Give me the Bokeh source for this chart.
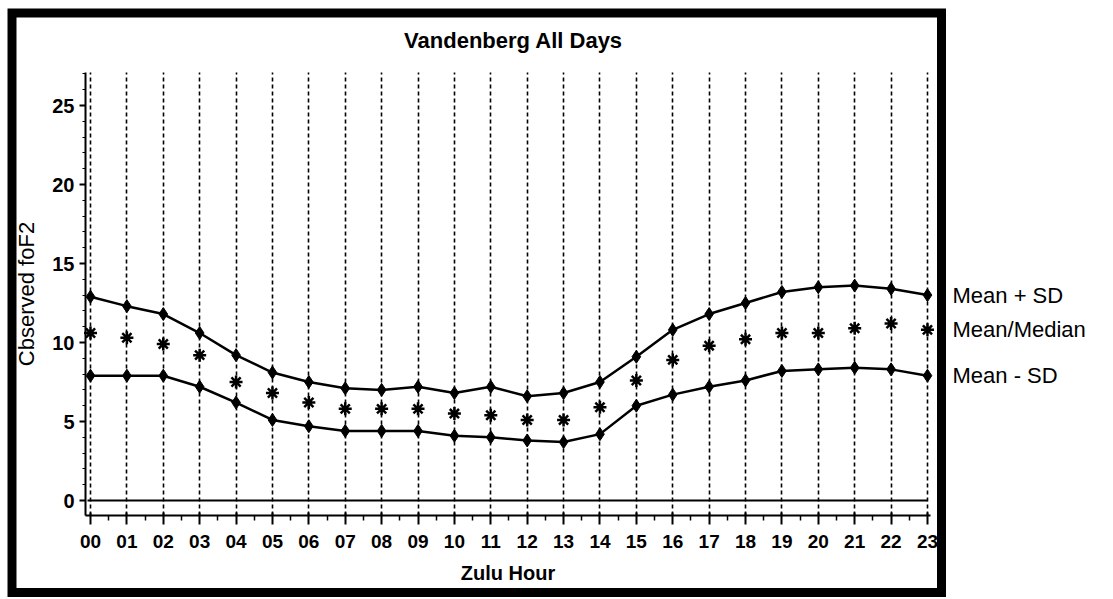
from bokeh.plotting import figure
from bokeh.models import FixedTicker, Label, BoxAnnotation
from bokeh.embed import file_html
from bokeh.resources import INLINE

# ---------------- data ----------------
hours = [0, 1, 2, 3, 4, 5, 6, 7, 8, 9, 10, 11, 12, 13, 14, 15, 16, 17, 18, 19, 20, 21, 22, 23]
hour_labels = ["00", "01", "02", "03", "04", "05", "06", "07", "08", "09", "10", "11",
               "12", "13", "14", "15", "16", "17", "18", "19", "20", "21", "22", "23"]
mean_plus_sd = [12.9, 12.3, 11.8, 10.6, 9.2, 8.1, 7.5, 7.1, 7.0, 7.2, 6.8, 7.2,
                6.6, 6.8, 7.5, 9.1, 10.8, 11.8, 12.5, 13.2, 13.5, 13.6, 13.4, 13.0]
mean_median = [10.6, 10.3, 9.9, 9.2, 7.5, 6.8, 6.2, 5.8, 5.8, 5.8, 5.5, 5.4,
               5.1, 5.1, 5.9, 7.6, 8.9, 9.8, 10.2, 10.6, 10.6, 10.9, 11.2, 10.8]
mean_minus_sd = [7.9, 7.9, 7.9, 7.2, 6.2, 5.1, 4.7, 4.4, 4.4, 4.4, 4.1, 4.0,
                 3.8, 3.7, 4.2, 6.0, 6.7, 7.2, 7.6, 8.2, 8.3, 8.4, 8.3, 7.9]
y_ticks = [0, 5, 10, 15, 20, 25]
series_names = ["Mean + SD", "Mean/Median", "Mean - SD"]
title_text = "Vandenberg All Days"
x_label = "Zulu Hour"
y_label = "Cbserved foF2"

# ---------------- geometry (pixels) ----------------
FONT = "Liberation Sans"
W, H = 1113, 599
X0_PX, PX_HOUR = 90.0, 36.39      # pixel of hour 0, pixels per hour
Y0_PX, PX_UNIT = 500.0, 15.8      # pixel of value 0, pixels per unit
XR = (-X0_PX / PX_HOUR, (W - X0_PX) / PX_HOUR)
YR = ((Y0_PX - H) / PX_UNIT, Y0_PX / PX_UNIT)


def x_at(px):
    return (px - X0_PX) / PX_HOUR


def y_at(py):
    return (Y0_PX - py) / PX_UNIT


AX_L, AX_R, AX_T, AX_B = 85, 930, 72, 515   # plotting box edges (pixels)

p = figure(width=W, height=H, x_range=XR, y_range=YR,
           output_backend="svg", toolbar_location=None,
           min_border=0, title=None)
p.outline_line_color = None
p.background_fill_color = "white"
p.border_fill_color = "white"

# x axis
xa = p.xaxis[0]
xa.fixed_location = y_at(AX_B)
xa.bounds = (x_at(AX_L), x_at(AX_R))
xa.ticker = FixedTicker(ticks=hours, minor_ticks=[h + 0.5 for h in hours[:-1]])
xa.major_label_overrides = {h: lab for h, lab in zip(hours, hour_labels)}
xa.axis_line_width = 2
xa.axis_line_color = "black"
xa.major_tick_line_width = 2
xa.major_tick_line_color = "black"
xa.major_tick_in = 3
xa.major_tick_out = 9
xa.minor_tick_in = 0
xa.minor_tick_out = 5
xa.minor_tick_line_width = 1.5
xa.minor_tick_line_color = "black"
xa.major_label_text_font = FONT
xa.major_label_text_font_size = "19px"
xa.major_label_text_font_style = "bold"
xa.major_label_text_color = "black"
xa.major_label_standoff = 10
xa.axis_label = x_label
xa.axis_label_text_font = FONT
xa.axis_label_text_font_size = "20px"
xa.axis_label_text_font_style = "bold"
xa.axis_label_text_color = "black"
xa.axis_label_standoff = 11

# y axis
ya = p.yaxis[0]
ya.fixed_location = x_at(AX_L)
ya.bounds = (y_at(AX_B), y_at(AX_T))
ya.ticker = FixedTicker(ticks=y_ticks, minor_ticks=list(range(0, 28)))
ya.axis_line_width = 2
ya.axis_line_color = "black"
ya.major_tick_line_width = 2
ya.major_tick_line_color = "black"
ya.major_tick_in = 0
ya.major_tick_out = 6
ya.minor_tick_in = 0
ya.minor_tick_out = 3
ya.minor_tick_line_width = 1.2
ya.minor_tick_line_color = "black"
ya.major_label_text_font = FONT
ya.major_label_text_font_size = "20px"
ya.major_label_text_font_style = "bold"
ya.major_label_text_color = "black"
ya.major_label_standoff = 5
ya.axis_label = y_label
ya.axis_label_text_font = FONT
ya.axis_label_text_font_size = "22px"
ya.axis_label_text_font_style = "normal"
ya.axis_label_text_color = "black"
ya.axis_label_standoff = 10

# vertical dashed grid at each hour, limited to the plotting box
p.xgrid.grid_line_color = "black"
p.xgrid.grid_line_dash = "4 3"
p.xgrid.grid_line_width = 1.6
p.xgrid.cross_bounds = (y_at(AX_B), y_at(AX_T))
# solid zero line
p.ygrid.ticker = FixedTicker(ticks=[0])
p.ygrid.grid_line_color = "black"
p.ygrid.grid_line_width = 2
p.ygrid.bounds = (0, 0)
p.ygrid.cross_bounds = (x_at(AX_L + 2), hours[-1])

# series
for vals in (mean_plus_sd, mean_minus_sd):
    p.line(hours, vals, line_color="black", line_width=2.5)
    p.scatter(hours, vals, marker="diamond", size=13,
              fill_color="black", line_color="black", line_width=1)
p.scatter(hours, mean_median, marker="asterisk", size=13,
          line_color="black", line_width=2.5)

# title
p.add_layout(Label(x=x_at(513), y=y_at(40), text=title_text,
                   text_align="center", text_baseline="middle",
                   text_font=FONT, text_font_size="22px",
                   text_font_style="bold", text_color="black"))

# series labels at the right
for name, vals in zip(series_names, (mean_plus_sd, mean_median, mean_minus_sd)):
    p.add_layout(Label(x=x_at(952), y=vals[-1], text=name,
                       text_baseline="middle", text_align="left",
                       text_font=FONT, text_font_size="22px", text_color="black"))

# thick frame around the chart
p.add_layout(BoxAnnotation(left=x_at(11.5), right=x_at(941),
                           top=y_at(12.5), bottom=y_at(592),
                           fill_alpha=0, fill_color=None,
                           line_color="black", line_alpha=1.0, line_width=9,
                           line_join="miter", border_radius=0,
                           level="overlay"))

open("out.html", "w").write(file_html(p, INLINE))
